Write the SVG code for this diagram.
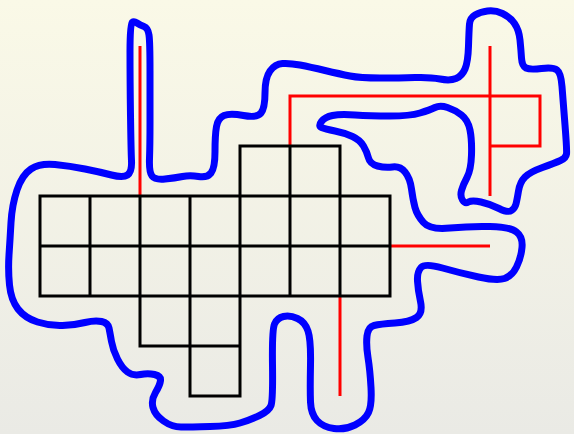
<svg xmlns="http://www.w3.org/2000/svg" width="574" height="434" viewBox="0 0 574 434">
<defs>
<linearGradient id="bg" x1="0" y1="0" x2="0" y2="1">
<stop offset="0" stop-color="#faf9e7"/>
<stop offset="1" stop-color="#eaeae5"/>
</linearGradient>
<style>
.red{fill:none;stroke:#ff0000;stroke-width:3}
.grid{fill:none;stroke:#000;stroke-width:3;stroke-linecap:square}
.loop{fill:none;stroke:#0000ff;stroke-width:7;stroke-linejoin:round}
</style>
</defs>
<rect width="574" height="434" fill="url(#bg)"/>
<g id="connectors">
<path class="red" d="M140,46V196 M290,146V96H540V146H490 M490,46V196 M390,246H490 M340,296V396"/>
</g>
<g id="grid">
<path class="grid" d="M240,146H340 M40,196H390 M40,246H390 M40,296H390 M140,346H240 M190,396H240 M40,196V296 M90,196V296 M140,196V346 M190,196V396 M240,146V396 M290,146V296 M340,146V296 M390,196V296"/>
</g>
<g id="loop">
<path class="loop" d="M9,255 Q10,240 11,222.5 Q12,205 17,190 Q22,175 31,169 Q40,163 55,164.5 Q70,166 85,169 Q100,172 111.5,175 Q123,178 127.5,175 Q132,172 131.5,161 Q131,150 130.5,115 Q130,80 130,52 Q130,24 132,22.5 Q134,21 137,23 Q140,25 144,26.5 Q148,28 149,35 Q150,42 150,71 Q150,100 150,122.5 Q150,145 149.5,158.5 Q149,172 152,176 Q155,180 165,179 Q175,178 182.5,176.5 Q190,175 198.5,176.5 Q207,178 211,173 Q215,168 215,151.5 Q215,135 216.5,126.5 Q218,118 224,115.5 Q230,113 243.5,115.5 Q257,118 261,113 Q265,108 265,93 Q265,78 270,71 Q275,64 282.5,63.5 Q290,63 300,65 Q310,67 325,70.5 Q340,74 350,76 Q360,78 380,78 Q400,78 415,77.5 Q430,77 440,79 Q450,81 456,78.5 Q462,76 465,69 Q468,62 468.5,46 Q469,30 469.5,24 Q470,18 475,15 Q480,12 487.5,11 Q495,10 502.5,13.5 Q510,17 514.5,23.5 Q519,30 520,40 Q521,50 521.5,58 Q522,66 526,68 Q530,70 541.5,68.5 Q553,67 557,70 Q561,73 562,86.5 Q563,100 565,125 Q567,150 566.5,154 Q566,158 560.5,160.5 Q555,163 542.5,167.5 Q530,172 525,177 Q520,182 518.5,191 Q517,200 516,204 Q515,208 511.5,210.5 Q508,213 499,208.5 Q490,204 481,202 Q472,200 468.5,202 Q465,204 462.5,200 Q460,196 461.5,190.5 Q463,185 467,177.5 Q471,170 471.5,155 Q472,140 470,130 Q468,120 461.5,115 Q455,110 447.5,107.5 Q440,105 435,107.5 Q430,110 420,113 Q410,116 390,116 Q370,116 355,115 Q340,114 332.5,115.5 Q325,117 321.5,121.5 Q318,126 321.5,127.5 Q325,129 335,131 Q345,133 352.5,136.5 Q360,140 363.5,146 Q367,152 368.5,158 Q370,164 377.5,166 Q385,168 392.5,167 Q400,166 405,172 Q410,178 411.5,189 Q413,200 415,207.5 Q417,215 423.5,222.5 Q430,230 450,228 Q470,226 490,226.5 Q510,227 516.5,232 Q523,237 522,247.5 Q521,258 516.5,267 Q512,276 504.5,278.5 Q497,281 478.5,277 Q460,273 442.5,268 Q425,263 421,267.5 Q417,272 417.5,281 Q418,290 420.5,301.5 Q423,313 416.5,317.5 Q410,322 395,323 Q380,324 374,325.5 Q368,327 367,336 Q366,345 368,357.5 Q370,370 371,387.5 Q372,405 368.5,412.5 Q365,420 355,425 Q345,430 334,428.5 Q323,427 317,420.5 Q311,414 310.5,402 Q310,390 310.5,365 Q311,340 308,331 Q305,322 297.5,318.5 Q290,315 283.5,316.5 Q277,318 274.5,324 Q272,330 272.5,365 Q273,400 271,405.5 Q269,411 259.5,415.5 Q250,420 240,423 Q230,426 210,426.5 Q190,427 181,427 Q172,427 163.5,421 Q155,415 153,407.5 Q151,400 155.5,392.5 Q160,385 160.5,380.5 Q161,376 154.5,374.5 Q148,373 140.5,374.5 Q133,376 127.5,372 Q122,368 117.5,359 Q113,350 111.5,341.5 Q110,333 109,328 Q108,323 101.5,321.5 Q95,320 85,322.5 Q75,325 62.5,325.5 Q50,326 37.5,322 Q25,318 18,309 Q11,300 9.5,285 Q8,270 9,255 Z"/>
</g>
</svg>
